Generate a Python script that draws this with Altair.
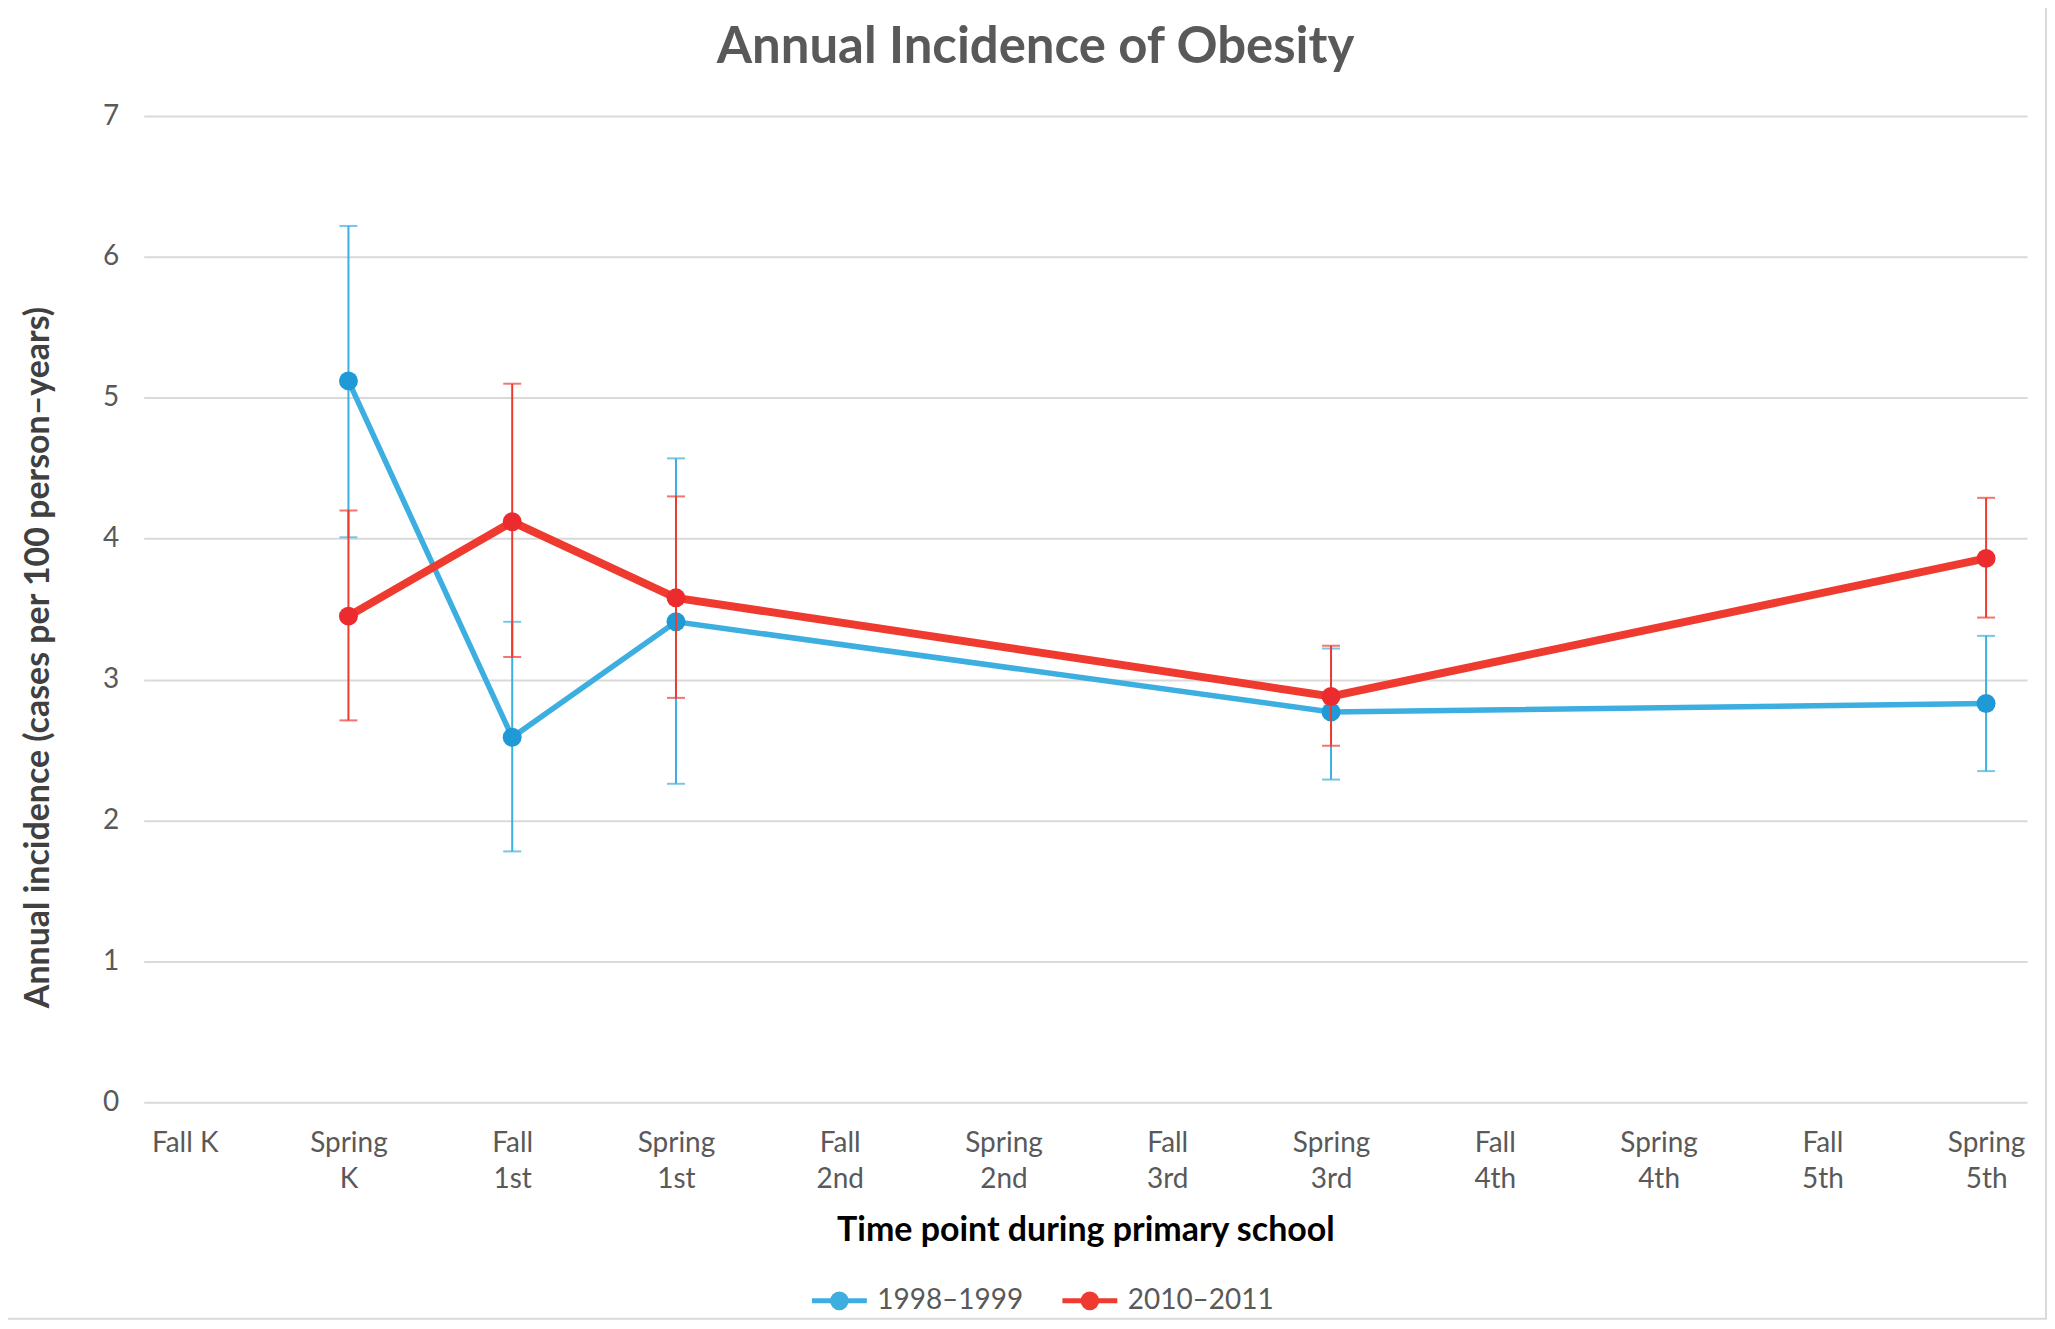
import altair as alt
import pandas as pd

# ---- data ----
categories = ["Fall K", "Spring K", "Fall 1st", "Spring 1st", "Fall 2nd", "Spring 2nd",
              "Fall 3rd", "Spring 3rd", "Fall 4th", "Spring 4th", "Fall 5th", "Spring 5th"]
time_points = ["Spring K", "Fall 1st", "Spring 1st", "Spring 3rd", "Spring 5th"]
series_names = ["1998\u20131999", "2010\u20132011"]

inc_1998 = [5.12, 2.59, 3.41, 2.77, 2.83]
lo_1998 = [4.01, 1.78, 2.26, 2.29, 2.35]
hi_1998 = [6.22, 3.41, 4.57, 3.22, 3.31]

inc_2010 = [3.45, 4.12, 3.58, 2.88, 3.86]
lo_2010 = [2.71, 3.16, 2.87, 2.53, 3.44]
hi_2010 = [4.20, 5.10, 4.30, 3.24, 4.29]

y_ticks = [0, 1, 2, 3, 4, 5, 6, 7]

line_colors = ["#3DAEE0", "#EE3A2F"]
marker_colors = ["#1F9AD6", "#EC2B2E"]
line_widths = [5.5, 8]

rows = []
for name, inc, lo, hi in [(series_names[0], inc_1998, lo_1998, hi_1998),
                          (series_names[1], inc_2010, lo_2010, hi_2010)]:
    for tp, v, l, h in zip(time_points, inc, lo, hi):
        rows.append({"series": name, "time": tp, "inc": v, "lo": l, "hi": h})
df = pd.DataFrame(rows)

FONT = "Lato"
W, H = 1887, 988


def circ(r):
    return f"M{-r},0A{r},{r},0,1,1,{r},0A{r},{r},0,1,1,{-r},0Z"


legend_path = "M-1,0L1,0" + circ(0.25) + circ(0.17) + circ(0.09) + circ(0.02)

x_enc = alt.X(
    "time:N",
    scale=alt.Scale(type="point", domain=categories, padding=0.25),
    axis=alt.Axis(
        title="Time point during primary school",
        labelExpr="datum.value == 'Fall K' ? datum.value : split(datum.value, ' ')",
        labelAngle=0,
        labelFontSize=28,
        labelFont=FONT,
        labelColor="#595959",
        labelLineHeight=37,
        labelPadding=27,
        domain=False,
        ticks=False,
        grid=False,
        titleFont=FONT,
        titleFontSize=34,
        titleFontWeight="bold",
        titleColor="#000000",
        titleY=129,
        titleBaseline="middle",
    ),
)
y_scale = alt.Scale(domain=[0, 7], nice=False, zero=True)
y_axis = alt.Axis(
    title="Annual incidence (cases per 100 person\u2013years)",
    values=y_ticks,
    format="d",
    grid=True,
    gridColor="#D9D9D9",
    gridWidth=2,
    domain=False,
    ticks=False,
    labelPadding=25,
    labelFontSize=28,
    labelFont=FONT,
    labelColor="#595959",
    titleFont=FONT,
    titleFontSize=34,
    titleFontWeight="bold",
    titleColor="#404040",
    titleAngle=270,
    titleX=-105,
    titleY=542,
    titleAlign="center",
    titleBaseline="middle",
)

color_scale = alt.Scale(domain=series_names, range=line_colors)
legend = alt.Legend(
    title=None,
    orient="none",
    legendX=667,
    legendY=1157,
    direction="horizontal",
    symbolType=legend_path,
    symbolSize=3025,
    symbolStrokeWidth=5,
    symbolOpacity=1,
    labelFont=FONT,
    labelFontSize=28,
    labelColor="#595959",
    labelOffset=8,
    columnPadding=28,
)
col = alt.Color("series:N", scale=color_scale, legend=legend)

base = alt.Chart(df)
layers = []
# frame around whole chart area (decoration)
frame = alt.Chart(pd.DataFrame({"a": [0]})).mark_rect(
    fill="transparent", stroke="#D9D9D9", strokeWidth=2
).encode(x=alt.value(-140), x2=alt.value(1906), y=alt.value(-110), y2=alt.value(1205))
layers.append(frame)

for i, name in enumerate(series_names):
    sb = base.transform_filter(alt.datum.series == name)
    rule = sb.mark_rule(strokeWidth=2).encode(
        x=x_enc, y=alt.Y("lo:Q", scale=y_scale, axis=y_axis), y2="hi:Q", color=col)
    cap_hi = sb.mark_tick(size=18, thickness=2).encode(
        x=x_enc, y=alt.Y("hi:Q", scale=y_scale), color=col)
    cap_lo = sb.mark_tick(size=18, thickness=2).encode(
        x=x_enc, y=alt.Y("lo:Q", scale=y_scale), color=col)
    line = sb.mark_line(strokeWidth=line_widths[i]).encode(
        x=x_enc, y=alt.Y("inc:Q", scale=y_scale), color=col)
    pts = sb.mark_point(filled=True, size=360, opacity=1, color=marker_colors[i]).encode(
        x=x_enc, y=alt.Y("inc:Q", scale=y_scale))
    layers += [rule, cap_hi, cap_lo, line, pts]

chart = alt.layer(*layers).properties(
    width=W,
    height=H,
    title=alt.TitleParams(
        "Annual Incidence of Obesity",
        font=FONT,
        fontSize=51,
        fontWeight="bold",
        color="#595959",
        anchor="middle",
        frame="group",
        dx=-50,
        offset=-69,
    ),
    autosize=alt.AutoSizeParams(type="none"),
    padding={"left": 136, "top": 107, "right": 20, "bottom": 218},
    background="white",
).configure_view(stroke=None)

chart.save("out.html", embed_options={"renderer": "svg", "actions": False})
